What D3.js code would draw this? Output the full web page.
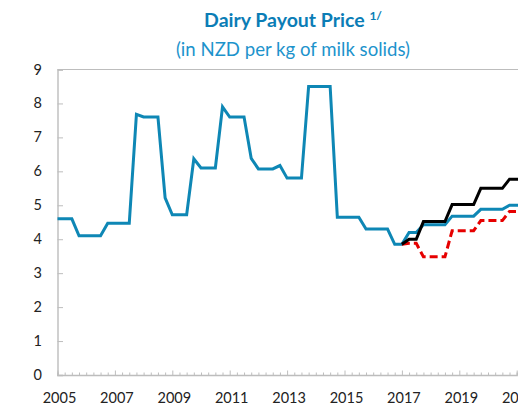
<!DOCTYPE html>
<html><head><meta charset="utf-8">
<script src="https://cdn.jsdelivr.net/npm/d3@7/dist/d3.min.js"></script>
<style>body{margin:0;background:#fff;} svg{display:block;font-family:Lato,"Open Sans",sans-serif;}</style>
</head><body>
<svg id="c" width="518" height="405"></svg>
<script>
// Quarterly series starting 2005Q1
const startYear = 2005;
const actual = [4.6,4.6,4.6, 4.1,4.1,4.1,4.1, 4.47,4.47,4.47,4.47, 7.68, 7.6,7.6,7.6, 5.22, 4.72,4.72,4.72,
  6.37, 6.1,6.1,6.1, 7.9, 7.6,7.6,7.6, 6.38, 6.07,6.07,6.07, 6.17, 5.8,5.8,5.8, 8.5,8.5,8.5,8.5,
  4.65,4.65,4.65,4.65, 4.3,4.3,4.3,4.3, 3.85,3.85, 4.2,4.2, 4.43,4.43,4.43,4.43, 4.68,4.68,4.68,4.68,
  4.88,4.88,4.88,4.88, 5.0,5.0,5.0];
const upsideStart = 48;
const upside = [3.85, 4.0,4.0, 4.52,4.52,4.52,4.52, 5.02,5.02,5.02,5.02, 5.5,5.5,5.5,5.5, 5.77,5.77,5.77];
const downside = [3.85, 3.88,3.88, 3.48,3.48,3.48,3.48, 4.25,4.25,4.25,4.25, 4.55,4.55,4.55,4.55, 4.82,4.82,4.82];
const yTicks = [0,1,2,3,4,5,6,7,8,9];
const xLabels = [2005,2007,2009,2011,2013,2015,2017,2019,2021];

const svg = d3.select("#c");
const x = d3.scaleLinear().domain([2005, 2021]).range([57.5, 57.5 + 16*28.7]);
const y = d3.scaleLinear().domain([0, 9]).range([375, 69.5]);
const axisCol = "#bdbdbd";

// title
const t = svg.append("text").attr("x", 293).attr("y", 27).attr("text-anchor","middle")
  .attr("fill","#0b7db6").attr("font-weight","bold").attr("font-size",19.5);
t.append("tspan").text("Dairy Payout Price ");
t.append("tspan").attr("font-size",12).attr("dy",-7).text("1/");
svg.append("text").attr("x",293).attr("y",56).attr("text-anchor","middle")
  .attr("fill","#1d93cc").attr("font-size",18.6).text("(in NZD per kg of milk solids)");

// top gridline
svg.append("line").attr("x1",57.5).attr("x2",518).attr("y1",y(9)).attr("y2",y(9))
  .attr("stroke",axisCol).attr("stroke-width",1.2);

// y axis
const yAx = svg.append("g").attr("transform","translate(57.5,0)")
  .call(d3.axisRight(y).tickValues(yTicks).tickSize(5.5).tickFormat(""));
yAx.select(".domain").attr("stroke",axisCol).attr("stroke-width",1.4);
yAx.selectAll(".tick line").attr("stroke",axisCol);
svg.selectAll(".ylab").data(yTicks).join("text").attr("class","ylab")
  .attr("x",42).attr("y",d=>y(d)+5).attr("text-anchor","end")
  .attr("font-size",14.5).attr("fill","#222").text(d=>d);

// x axis: quarterly minor ticks, taller every 2 years
const qTicks = d3.range(0, 16*4+1).map(i => startYear + i/4);
const xAxis = d3.axisTop(x).tickValues(qTicks).tickFormat("").tickSizeOuter(0)
  .tickSize(2.5);
const xAx = svg.append("g").attr("transform","translate(0,375)").call(xAxis);
xAx.select(".domain").attr("stroke",axisCol).attr("stroke-width",1.4);
xAx.selectAll(".tick line").attr("stroke",axisCol)
  .attr("y2", d => (Math.abs((d - startYear) % 2) < 1e-6 ? -4.5 : -2.5));
svg.selectAll(".xlab").data(xLabels).join("text").attr("class","xlab")
  .attr("x",d=>x(d)+2).attr("y",403).attr("text-anchor","middle")
  .attr("font-size",14.5).attr("fill","#222").text(d=>d);

// lines
const line = d3.line().x(d=>x(startYear + d.k/4)).y(d=>y(d.v)).curve(d3.curveLinear);
const toPts = (arr, off) => arr.map((v,i)=>({k:i+off, v}));

svg.append("path").datum(toPts(actual,0)).attr("d",line)
  .attr("fill","none").attr("stroke","#0e87b5").attr("stroke-width",3).attr("stroke-linejoin","miter");
svg.append("path").datum(toPts(downside,upsideStart)).attr("d",line)
  .attr("fill","none").attr("stroke","#e60000").attr("stroke-width",3).attr("stroke-dasharray","8,4");
svg.append("path").datum(toPts(upside,upsideStart)).attr("d",line)
  .attr("fill","none").attr("stroke","#000").attr("stroke-width",3);
</script>
</body></html>
